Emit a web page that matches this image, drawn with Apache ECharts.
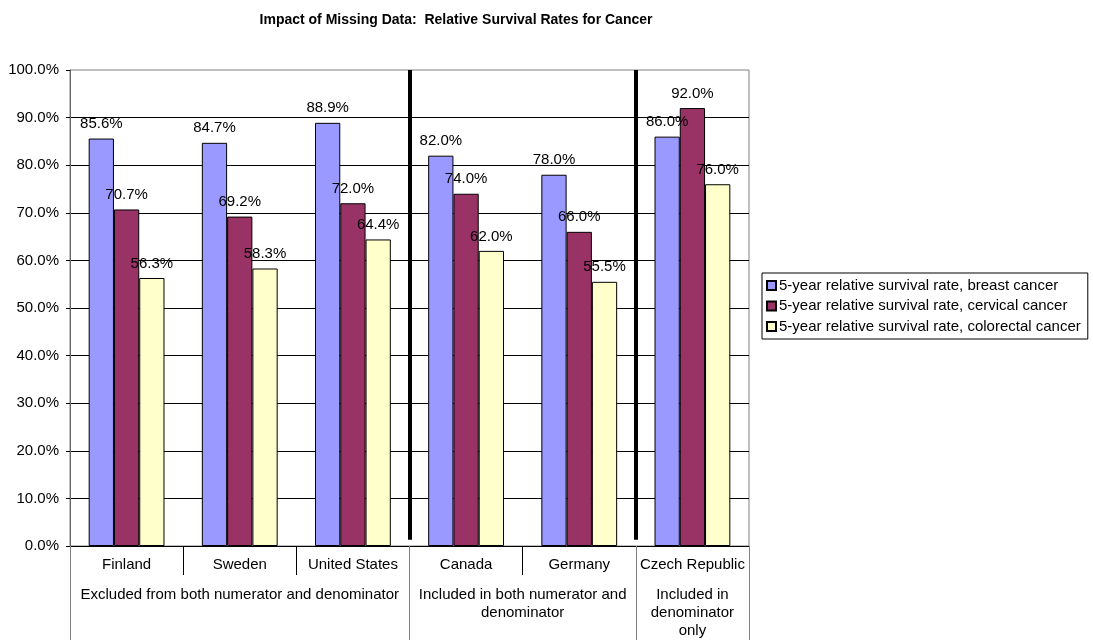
<!DOCTYPE html>
<html>
<head>
<meta charset="utf-8">
<script src="https://cdn.jsdelivr.net/npm/echarts@6/dist/echarts.min.js"></script>
<style>
  html, body { margin: 0; padding: 0; background: #fff; }
  #chart { width: 1093px; height: 640px; }
</style>
</head>
<body>
<div id="chart"></div>
<script>
// data
const countries = ['Finland', 'Sweden', 'United States', 'Canada', 'Germany', 'Czech Republic']
const seriesNames = [
  '5-year relative survival rate, breast cancer',
  '5-year relative survival rate, cervical cancer',
  '5-year relative survival rate, colorectal cancer'
]
const breast = [85.6, 84.7, 88.9, 82.0, 78.0, 86.0]
const cervical = [70.7, 69.2, 72.0, 74.0, 66.0, 92.0]
const colorectal = [56.3, 58.3, 64.4, 62.0, 55.5, 76.0]

// groups on the second axis level (position in category units)
const groupNames = [
  'Excluded from both numerator and denominator',
  'Included in both numerator and\ndenominator',
  'Included in\ndenominator\nonly'
]
const groupCenters = [1.5, 4, 5.5]
const groupBounds = [0, 3, 5, 6]
const separators = [3, 5]

const colors = ['#9999FF', '#993366', '#FFFFCC']
const font = 'Liberation Sans, Arial, sans-serif'
const fs = 15

const chart = echarts.init(document.getElementById('chart'))

const barSeries = [breast, cervical, colorectal].map((vals, i) => ({
  name: seriesNames[i],
  type: 'bar',
  xAxisIndex: 0,
  yAxisIndex: 0,
  data: vals,
  barGap: '0%',
  barCategoryGap: '33%',
  itemStyle: { color: colors[i], borderColor: '#000', borderWidth: 1 },
  label: {
    show: true,
    position: 'top',
    distance: 7,
    color: '#000',
    fontFamily: font,
    fontSize: fs,
    formatter: p => p.value.toFixed(1) + '%'
  }
}))

const option = {
  animation: false,
  title: {
    text: 'Impact of Missing Data:  Relative Survival Rates for Cancer',
    left: 451,
    textAlign: 'center',
    top: 8,
    textStyle: { fontFamily: font, fontSize: 14, fontWeight: 'bold', color: '#000' }
  },
  legend: {
    orient: 'vertical',
    left: 762,
    top: 273,
    padding: [5, 7, 5, 4],
    itemGap: 5.5,
    itemWidth: 9,
    itemHeight: 9,
    borderColor: '#000',
    borderWidth: 1,
    textStyle: { fontFamily: font, fontSize: fs, color: '#000', padding: [0, 0, 0, -2] },
    data: seriesNames,
    icon: 'rect'
  },
  grid: {
    left: 70,
    right: 344,
    top: 70,
    bottom: 94,
    show: true,
    borderColor: '#808080',
    borderWidth: 1
  },
  xAxis: [
    {
      type: 'category',
      data: countries,
      position: 'bottom',
      axisLine: { lineStyle: { color: '#000', width: 1 } },
      axisTick: { show: true, interval: 0, length: 29, lineStyle: { color: '#000' } },
      axisLabel: { interval: 0, margin: 11, color: '#000', fontFamily: font, fontSize: fs }
    },
    {
      type: 'value',
      min: 0,
      max: 6,
      position: 'bottom',
      splitLine: { show: false },
      axisLine: { show: false },
      axisTick: { show: true, customValues: groupBounds, length: 94, lineStyle: { color: '#808080' } },
      axisLabel: {
        customValues: groupCenters,
        margin: 40,
        color: '#000',
        fontFamily: font,
        fontSize: fs,
        lineHeight: 18,
        align: 'center',
        verticalAlign: 'top',
        formatter: v => groupNames[groupCenters.indexOf(v)]
      }
    }
  ],
  yAxis: {
    type: 'value',
    min: 0,
    max: 100,
    interval: 10,
    axisLine: { show: true, lineStyle: { color: '#666' } },
    axisTick: { show: true, length: 4, lineStyle: { color: '#000' } },
    splitLine: { show: true, showMaxLine: false, lineStyle: { color: '#000', width: 1 } },
    axisLabel: {
      margin: 11,
      color: '#000',
      fontFamily: font,
      fontSize: fs,
      formatter: v => v.toFixed(1) + '%'
    }
  },
  series: [
    ...barSeries,
    {
      name: 'separators',
      type: 'line',
      xAxisIndex: 1,
      yAxisIndex: 0,
      data: [],
      markLine: {
        silent: true,
        symbol: 'none',
        label: { show: false },
        lineStyle: { color: '#000', width: 4, type: 'solid' },
        data: separators.map(s => [{ coord: [s, 1.3] }, { coord: [s, 100] }])
      }
    }
  ]
}

chart.setOption(option)
</script>
</body>
</html>
